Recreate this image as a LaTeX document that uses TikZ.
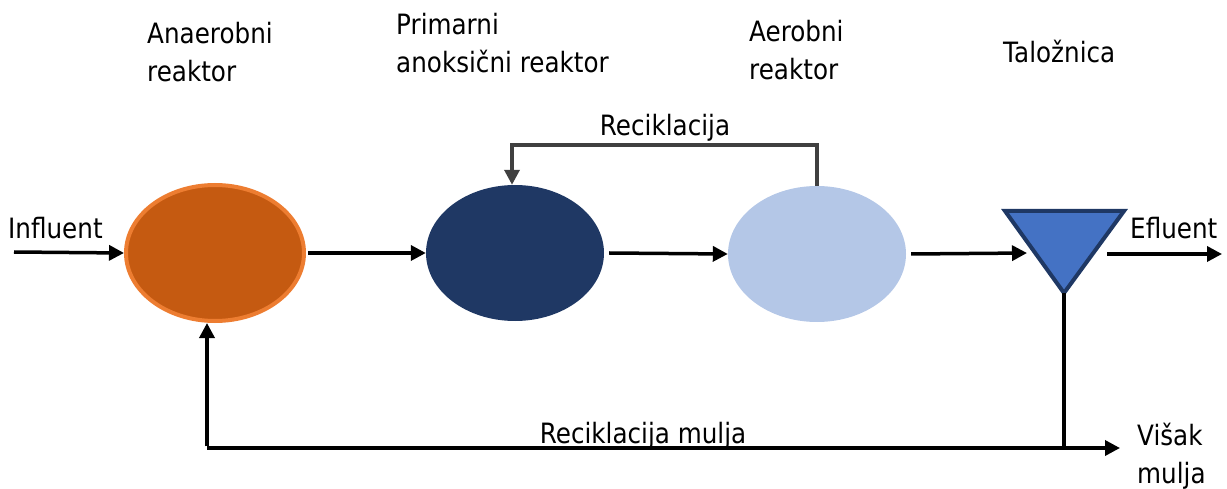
\documentclass[tikz,border=0pt]{standalone}
\usepackage{fontspec}
\setmainfont{DejaVu Sans}[FakeStretch=0.88]
\usetikzlibrary{shapes.geometric,arrows.meta}
\definecolor{orfill}{HTML}{C55A11}
\definecolor{orline}{HTML}{ED7D31}
\definecolor{navy}{HTML}{1F3864}
\definecolor{light}{HTML}{B4C7E7}
\definecolor{trifill}{HTML}{4472C4}
\definecolor{recg}{HTML}{404040}
\tikzset{
  reactor/.style={ellipse, minimum width=178pt, minimum height=136pt, inner sep=0pt},
  arr/.style={line width=3.5pt, -{Triangle[length=15pt,width=15pt]}},
  plain/.style={line width=3.5pt},
  arrg/.style={draw=recg, line width=3.5pt, -{Triangle[length=15pt,width=15pt]}},
  lbl/.style={font=\fontsize{28}{38}\selectfont, inner sep=0pt, align=left, anchor=north west},
}
\begin{document}
\begin{tikzpicture}[x=1pt,y=-1pt]
\useasboundingbox (0,0) rectangle (1227,489);
% reactors
\node[reactor, fill=orfill, draw=orline, line width=4pt] (e1) at (215,253) {};
\node[reactor, fill=navy] (e2) at (515,253) {};
\node[reactor, fill=light] (e3) at (817,254) {};
% settler
\coordinate (tl) at (1005,211);
\coordinate (tr) at (1124,211);
\coordinate (tb) at (1064,293);
\draw[fill=trifill, draw=navy, line width=4pt, line join=miter] (tl) -- (tr) -- (tb) -- cycle;
\coordinate (tin) at (1027,253);
\coordinate (tout) at (1107,254);
\coordinate (effl) at (1222,254);
\coordinate (infl) at (14,252);
% main flow
\draw[arr] (infl) -- (e1.west);
\draw[arr] ([xshift=2pt]e1.east) -- (e2.west);
\draw[arr] ([xshift=5pt]e2.east) -- (e3.west);
\draw[arr] ([xshift=5pt]e3.east) -- (tin);
\draw[arr] (tout) -- (effl);
% internal recycle
\coordinate (rt) at (665,145);
\draw[arrg] (e3.north) -- (e3.north |- rt) -| ([xshift=-3pt]e2.north);
% sludge recycle
\coordinate (br) at (1064,448);
\coordinate (bl) at (207,448);
\coordinate (vm) at (1120,448);
\draw[plain] (tb) -- (br);
\draw[arr] (bl) -- (vm);
\draw[arr] ([yshift=1.75pt]bl) -- (bl |- e1.south);
% labels
\node[lbl] (l1) at (147,22) {Anaerobni\\reaktor};
\node[lbl] (l2) at (396,13) {Primarni\\anoksični reaktor};
\node[lbl] (l3) at (749,20) {Aerobni\\reaktor};
\node[lbl] (l4) at (1003,40) {Taložnica};
\node[lbl] (l5) at (8,217) {Influent};
\node[lbl] (l6) at (1130,217) {Efluent};
\node[lbl] (l7) at (1137,423) {Višak\\mulja};
\node[lbl, anchor=base] (l8) at (665,136) {Reciklacija};
\node[lbl, anchor=base] (l9) at (643,443) {Reciklacija mulja};
\end{tikzpicture}
\end{document}
